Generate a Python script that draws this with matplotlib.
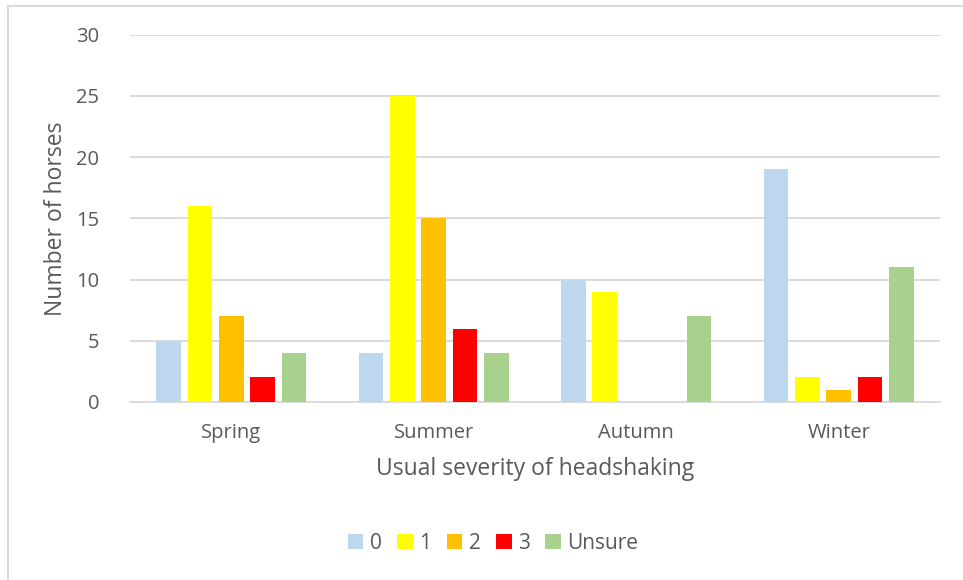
import numpy as np
import matplotlib.pyplot as plt
from matplotlib.patches import Rectangle

plt.rcParams['font.family'] = ['Open Sans', 'DejaVu Sans']

seasons = ['Spring', 'Summer', 'Autumn', 'Winter']
labels = ['0', '1', '2', '3', 'Unsure']
sev0 = [5, 4, 10, 19]
sev1 = [16, 25, 9, 2]
sev2 = [7, 15, 0, 1]
sev3 = [2, 6, 0, 2]
unsure = [4, 4, 7, 11]
series = [sev0, sev1, sev2, sev3, unsure]
colors = ['#BDD7EE', '#FFFF00', '#FFC000', '#FF0000', '#A9D18E']

txt = '#595959'
fig = plt.figure(figsize=(9.63, 5.8), dpi=100)
ax = fig.add_axes([0.135, 0.307, 0.841, 0.633])

x = np.arange(len(seasons))
step = 0.155
w = 0.122
for i, (vals, c, lab) in enumerate(zip(series, colors, labels)):
    ax.bar(x + (i - 2) * step, vals, w, color=c, label=lab, zorder=3)

ax.set_xlim(-0.5, 3.5)
ax.set_ylim(0, 30)
ax.set_yticks(range(0, 31, 5))
ax.yaxis.grid(True, color='#D9D9D9', lw=1.3, zorder=0)
for s in ['top', 'right', 'left']:
    ax.spines[s].set_visible(False)
ax.spines['bottom'].set_color('#D9D9D9')
ax.spines['bottom'].set_linewidth(1.3)
ax.set_xticks(x)
ax.set_xticklabels(seasons)
ax.tick_params(length=0, labelsize=14.5, labelcolor=txt)
ax.tick_params(axis='y', pad=22)
ax.tick_params(axis='x', pad=15)
ax.set_ylabel('Number of horses', fontsize=16.5, color=txt, labelpad=6)
ax.set_xlabel('Usual severity of headshaking', fontsize=16.5, color=txt, labelpad=10)

leg = fig.legend(loc='center', bbox_to_anchor=(0.512, 0.063), ncol=5, frameon=False,
                 fontsize=15, handlelength=0.75, handleheight=0.75, handletextpad=0.3,
                 columnspacing=0.75)
for t in leg.get_texts():
    t.set_color(txt)

fig.patches.append(Rectangle((0.008, -0.05), 1.05, 1.04, transform=fig.transFigure,
                             fill=False, ec='#D9D9D9', lw=1.5))

fig.savefig('out.png', dpi=100)
